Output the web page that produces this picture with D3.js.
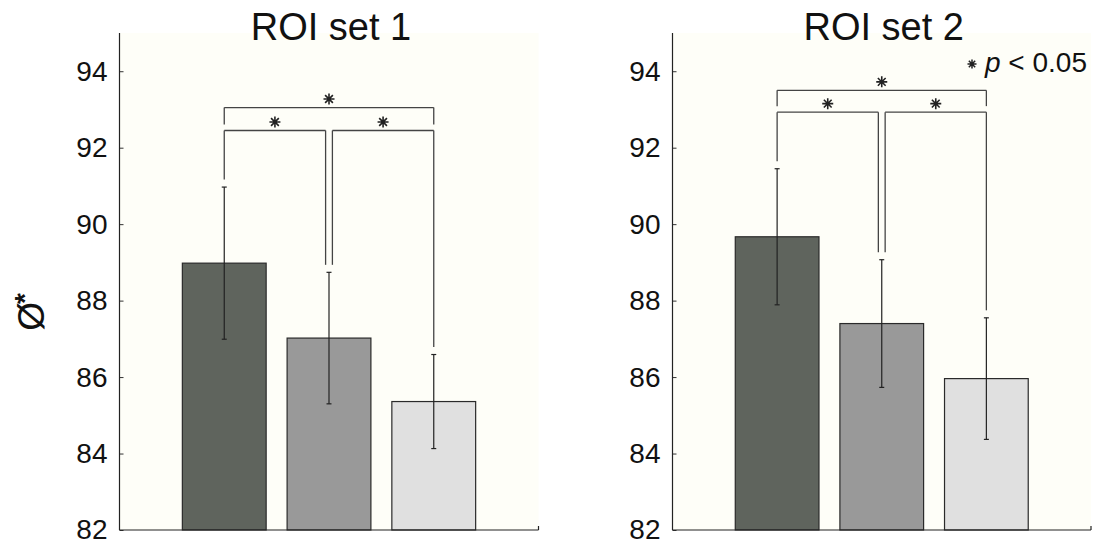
<!DOCTYPE html>
<html><head><meta charset="utf-8">
<script src="https://cdn.jsdelivr.net/npm/d3@7"></script>
<style>body{margin:0;background:#fff}svg{display:block}</style>
</head><body>
<svg id="c" width="1099" height="545"></svg>
<script>
// ---- data ----
const panelTitles = ["ROI set 1", "ROI set 2"];
const conditions = [1, 2, 3];
const means1 = [88.98, 87.02, 85.36];
const errs1  = [1.99, 1.72, 1.23];
const means2 = [89.67, 87.40, 85.96];
const errs2  = [1.78, 1.67, 1.59];
const yTicks = [82, 84, 86, 88, 90, 92, 94];
const yDomain = [82, 95];
const xDomain = [0, 4];
const bracketOuter = [93.05, 93.50];
const bracketInner = [92.45, 92.93];
const yLabel = "Ø";
const legendText = "p < 0.05";

// ---- style ----
const barColors = ["#5f645d", "#999999", "#e0e0e0"];
const bg = "#fefef8";
const font = "'Liberation Sans', Arial, Helvetica, sans-serif";
const panels = [
  {x0: 119.5, x1: 538.5, means: means1, errs: errs1, title: panelTitles[0], bo: bracketOuter[0], bi: bracketInner[0]},
  {x0: 672.5, x1: 1091, means: means2, errs: errs2, title: panelTitles[1], bo: bracketOuter[1], bi: bracketInner[1]}
];
const yTop = 33, yBot = 530;
const svg = d3.select("#c");

function star(g, cx, cy, r, col, w) {
  const p = d3.path();
  for (let k = 0; k < 4; k++) {
    const a = k * Math.PI / 4;
    p.moveTo(cx - r * Math.cos(a), cy - r * Math.sin(a));
    p.lineTo(cx + r * Math.cos(a), cy + r * Math.sin(a));
  }
  g.append("path").attr("d", p.toString()).attr("stroke", col).attr("stroke-width", w || 1.6).attr("fill", "none");
}

panels.forEach(P => {
  const x = d3.scaleLinear().domain(xDomain).range([P.x0, P.x1]);
  const y = d3.scaleLinear().domain(yDomain).range([yBot, yTop]);
  const g = svg.append("g");
  g.append("rect").attr("x", P.x0).attr("y", yTop).attr("width", P.x1 - P.x0).attr("height", yBot - yTop).attr("fill", bg);

  // bars
  const bw = 0.8;
  g.selectAll("rect.bar").data(conditions).join("rect").attr("class", "bar")
    .attr("x", d => x(d - bw / 2)).attr("width", d => x(d + bw / 2) - x(d - bw / 2))
    .attr("y", (d, i) => y(P.means[i])).attr("height", (d, i) => y(yDomain[0]) - y(P.means[i]))
    .attr("fill", (d, i) => barColors[i]).attr("stroke", "#2a2a2a").attr("stroke-width", 1.2);

  // error bars
  conditions.forEach((d, i) => {
    const cx = x(d), t = y(P.means[i] + P.errs[i]), b = y(P.means[i] - P.errs[i]);
    g.append("line").attr("x1", cx).attr("x2", cx).attr("y1", t).attr("y2", b).attr("stroke", "#222").attr("stroke-width", 1.2);
    [t, b].forEach(v => g.append("line").attr("x1", cx - 2.5).attr("x2", cx + 2.5).attr("y1", v).attr("y2", v).attr("stroke", "#222").attr("stroke-width", 1.2));
  });

  // significance brackets
  const bc = "#444", bwid = 1.3, gap = 7.5, off = 3.4;
  const yo = y(P.bo), yi = y(P.bi);
  const top = i => y(P.means[i] + P.errs[i]) - gap;
  const lines = [
    [x(1), yo, x(3), yo], [x(1), yo, x(1), yi - 6], [x(3), yo, x(3), yi - 6],
    [x(1), yi, x(2) - off, yi], [x(1), yi, x(1), top(0)], [x(2) - off, yi, x(2) - off, top(1)],
    [x(2) + off, yi, x(3), yi], [x(2) + off, yi, x(2) + off, top(1)], [x(3), yi, x(3), top(2)]
  ];
  lines.forEach(l => g.append("line").attr("x1", l[0]).attr("y1", l[1]).attr("x2", l[2]).attr("y2", l[3]).attr("stroke", bc).attr("stroke-width", bwid));
  star(g, x(2), yo - 8.5, 5.5, "#222");
  star(g, (x(1) + x(2) - off) / 2, yi - 8.5, 5.5, "#222");
  star(g, (x(2) + off + x(3)) / 2, yi - 8.5, 5.5, "#222");

  // axes
  const ax = d3.axisLeft(y).tickValues(yTicks).tickSize(-4).tickPadding(12).tickFormat(d3.format("d"));
  const ag = g.append("g").attr("transform", `translate(${P.x0},0)`).call(ax);
  ag.select(".domain").remove();
  ag.selectAll(".tick line").attr("stroke", "#333");
  ag.selectAll(".tick text").attr("font-family", font).attr("font-size", 28).attr("fill", "#111");
  g.append("line").attr("x1", P.x0).attr("x2", P.x0).attr("y1", yTop).attr("y2", yBot).attr("stroke", "#222").attr("stroke-width", 1.2);
  g.append("line").attr("x1", P.x0).attr("x2", P.x1).attr("y1", yBot).attr("y2", yBot).attr("stroke", "#222").attr("stroke-width", 1.2);
  g.append("line").attr("x1", P.x1).attr("x2", P.x1).attr("y1", yBot).attr("y2", yBot - 4).attr("stroke", "#222").attr("stroke-width", 1.2);

  // title
  g.append("text").attr("x", (P.x0 + P.x1) / 2 + 2).attr("y", 40).attr("text-anchor", "middle")
    .attr("font-family", font).attr("font-size", 38).attr("fill", "#111").text(P.title);
});

// y label
const yl = svg.append("text").attr("transform", "translate(44,312) rotate(-90)").attr("text-anchor", "middle")
  .attr("font-family", font).attr("font-size", 37).attr("fill", "#111");
yl.append("tspan").text(yLabel);
yl.append("tspan").attr("dy", -10).attr("dx", -2).attr("font-size", 28).attr("font-weight", "bold").text("*");

// legend
star(svg, 972, 64, 4.5, "#222", 1.5);
const lt = svg.append("text").attr("x", 985).attr("y", 72).attr("font-family", font).attr("font-size", 28).attr("fill", "#111");
lt.append("tspan").attr("font-style", "italic").text(legendText.split(" ")[0]);
lt.append("tspan").text(" " + legendText.split(" ").slice(1).join(" "));
</script>
</body></html>
